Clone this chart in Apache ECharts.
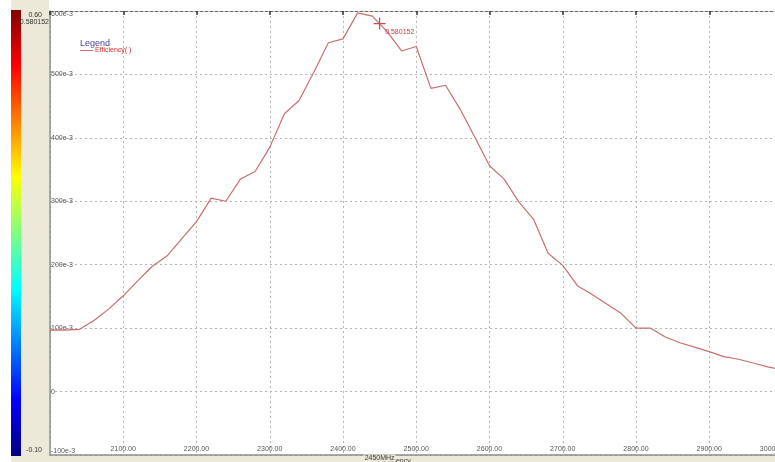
<!DOCTYPE html>
<html>
<head>
<meta charset="utf-8">
<script src="https://cdn.jsdelivr.net/npm/echarts@6/dist/echarts.min.js"></script>
<style>
  html, body { margin: 0; padding: 0; background: #ffffff; }
  #chart { width: 775px; height: 462px; }
</style>
</head>
<body>
<div id="chart"></div>
<script>
// Frequency sweep (MHz) and measured efficiency
const freqs = [2000, 2020, 2040, 2060, 2080, 2100, 2120, 2140, 2160, 2180,
               2200, 2220, 2240, 2260, 2280, 2300, 2320, 2340, 2360, 2380,
               2400, 2420, 2440, 2460, 2480, 2500, 2520, 2540, 2560, 2580,
               2600, 2620, 2640, 2660, 2680, 2700, 2720, 2740, 2760, 2780,
               2800, 2820, 2840, 2860, 2880, 2900, 2920, 2940, 2960, 2980, 3000];
const efficiency = [0.097, 0.097, 0.098, 0.112, 0.130, 0.151, 0.175, 0.198, 0.214, 0.241,
                    0.268, 0.305, 0.300, 0.335, 0.347, 0.385, 0.438, 0.459, 0.503, 0.550,
                    0.556, 0.597, 0.592, 0.568, 0.537, 0.544, 0.478, 0.483, 0.445, 0.401,
                    0.356, 0.335, 0.299, 0.272, 0.218, 0.199, 0.167, 0.153, 0.138, 0.123,
                    0.100, 0.100, 0.086, 0.077, 0.070, 0.063, 0.055, 0.051, 0.045, 0.039, 0.034];
// Marker readout
const markerFreq = 2450;
const markerValue = 0.580152;
// Colour scale limits
const scaleMax = 0.60;
const scaleMin = -0.10;

const seriesName = 'Efficiency( )';
const lineColor = '#c96e6e';
const panelColor = '#ece9d8';
const labelFont = 'Liberation Sans, Arial, sans-serif';

const points = freqs.map((f, i) => [f, efficiency[i]]);

const chart = echarts.init(document.getElementById('chart'), null, { renderer: 'canvas' });

function yLabel(v) {
  const r = Math.round(v * 1000);
  if (r === 0) return '0';
  return r + 'e-3';
}

function xLabel(v) {
  const s = v.toFixed(2);
  // the last label sits at the window edge and is nudged left
  return v >= 3000 ? '{edge|' + s + '}' : s;
}

chart.setOption({
  backgroundColor: '#ffffff',
  animation: false,
  grid: { left: 50, right: -7.5, top: 11, bottom: 7, containLabel: false, outerBoundsMode: 'none' },
  legend: {
    left: 80, top: 47,
    orient: 'vertical',
    itemWidth: 13, itemHeight: 6, itemGap: 0,
    padding: 0,
    icon: 'path://M0,0 L13,0 L13,1 L0,1 Z',
    textStyle: { color: '#d03030', fontSize: 7, fontFamily: labelFont, padding: [0, 0, 0, -3] },
    data: [{ name: seriesName, itemStyle: { color: lineColor } }]
  },
  xAxis: [{
    type: 'value', min: 2000, max: 3000, interval: 100,
    axisLine: { show: true, onZero: false, lineStyle: { color: '#8a8a8a', width: 1.5 } },
    axisTick: { show: false },
    axisLabel: {
      inside: true, margin: 2, showMinLabel: false,
      fontSize: 7, fontFamily: labelFont, color: '#555',
      formatter: xLabel,
      rich: { edge: { fontSize: 7, fontFamily: labelFont, color: '#555', padding: [0, 20, 0, 0] } }
    },
    splitLine: { show: true, lineStyle: { color: '#b4b4b4', type: [2, 3], width: 1 } }
  }, {
    type: 'value', min: 2000, max: 3000, interval: 100, position: 'top',
    axisLine: { show: true, onZero: false, lineStyle: { color: '#666', width: 1, type: [3, 2] } },
    axisTick: { show: true, inside: true, length: 4, lineStyle: { color: '#333', width: 1.5 } },
    axisLabel: { show: false },
    splitLine: { show: false }
  }],
  yAxis: {
    type: 'value', min: scaleMin, max: scaleMax, interval: 0.1,
    axisLine: { show: true, onZero: false, lineStyle: { color: '#8a8a8a', width: 1.5 } },
    axisTick: { show: false },
    axisLabel: {
      inside: true, margin: 1, fontSize: 7, fontFamily: labelFont, color: '#555',
      verticalAlignMinLabel: 'bottom', verticalAlignMaxLabel: 'top',
      formatter: yLabel
    },
    splitLine: { show: true, lineStyle: { color: '#b4b4b4', type: [2, 3], width: 1 } }
  },
  series: [{
    name: seriesName,
    type: 'line',
    data: points,
    showSymbol: false,
    symbol: 'none',
    lineStyle: { color: lineColor, width: 1.2 },
    itemStyle: { color: lineColor },
    markPoint: {
      symbol: 'path://M6,0 L6,12 M0,6 L12,6',
      symbolSize: 12,
      itemStyle: { color: 'none', borderColor: '#d04848', borderWidth: 1.2 },
      label: {
        show: true, position: 'right', offset: [-8, 8],
        fontSize: 7, fontFamily: labelFont, color: '#c84040',
        formatter: () => String(markerValue)
      },
      data: [{ coord: [markerFreq, markerValue], value: markerValue }]
    }
  }]
});

// Side panel, colour scale and annotations
const markerX = chart.convertToPixel({ xAxisIndex: 0 }, markerFreq);
const barTop = chart.convertToPixel({ yAxisIndex: 0 }, scaleMax);
const barBottom = chart.convertToPixel({ yAxisIndex: 0 }, scaleMin);

chart.setOption({
  graphic: [
    { type: 'rect', z: -10, silent: true, shape: { x: 0, y: 0, width: 49, height: 462 }, style: { fill: panelColor } },
    { type: 'rect', z: -10, silent: true, shape: { x: 0, y: barBottom + 1, width: 775, height: 462 - barBottom }, style: { fill: panelColor } },
    { type: 'rect', z: -9, silent: true, shape: { x: 0, y: 0, width: 11, height: 462 }, style: { fill: '#ffffff' } },
    {
      type: 'rect', z: -8, silent: true,
      shape: { x: 11, y: barTop - 1, width: 10, height: barBottom - barTop + 2 },
      style: {
        fill: new echarts.graphic.LinearGradient(0, 0, 0, 1, [
          { offset: 0, color: '#800000' },
          { offset: 0.125, color: '#ff0000' },
          { offset: 0.25, color: '#ff8000' },
          { offset: 0.375, color: '#ffff00' },
          { offset: 0.5, color: '#80ff80' },
          { offset: 0.625, color: '#00ffff' },
          { offset: 0.75, color: '#0080ff' },
          { offset: 0.875, color: '#0000ff' },
          { offset: 1, color: '#000080' }
        ])
      }
    },
    { type: 'text', silent: true, style: { x: 42, y: barTop + 4, text: scaleMax.toFixed(2), textAlign: 'right', textVerticalAlign: 'middle', fontSize: 7, fontFamily: labelFont, fill: '#333' } },
    { type: 'text', silent: true, style: { x: 49, y: barTop + 11, text: String(markerValue), textAlign: 'right', textVerticalAlign: 'middle', fontSize: 7, fontFamily: labelFont, fill: '#333' } },
    { type: 'text', silent: true, style: { x: 42, y: barBottom - 5, text: scaleMin.toFixed(2), textAlign: 'right', textVerticalAlign: 'middle', fontSize: 7, fontFamily: labelFont, fill: '#333' } },
    { type: 'text', silent: true, style: { x: 80, y: 44, text: 'Legend', textAlign: 'left', textVerticalAlign: 'middle', fontSize: 9, fontFamily: labelFont, fill: '#45459c' } },
    { type: 'text', silent: true, z: 5, style: { x: markerX - 2, y: 461, text: 'Frequency', textAlign: 'left', textVerticalAlign: 'middle', fontSize: 7, fontFamily: labelFont, fill: '#444' } },
    { type: 'text', silent: true, z: 6, style: { x: markerX, y: 458, text: markerFreq + 'MHz', textAlign: 'center', textVerticalAlign: 'middle', fontSize: 7, fontFamily: labelFont, fill: '#333', backgroundColor: panelColor, padding: [0, 1] } }
  ]
});
</script>
</body>
</html>
